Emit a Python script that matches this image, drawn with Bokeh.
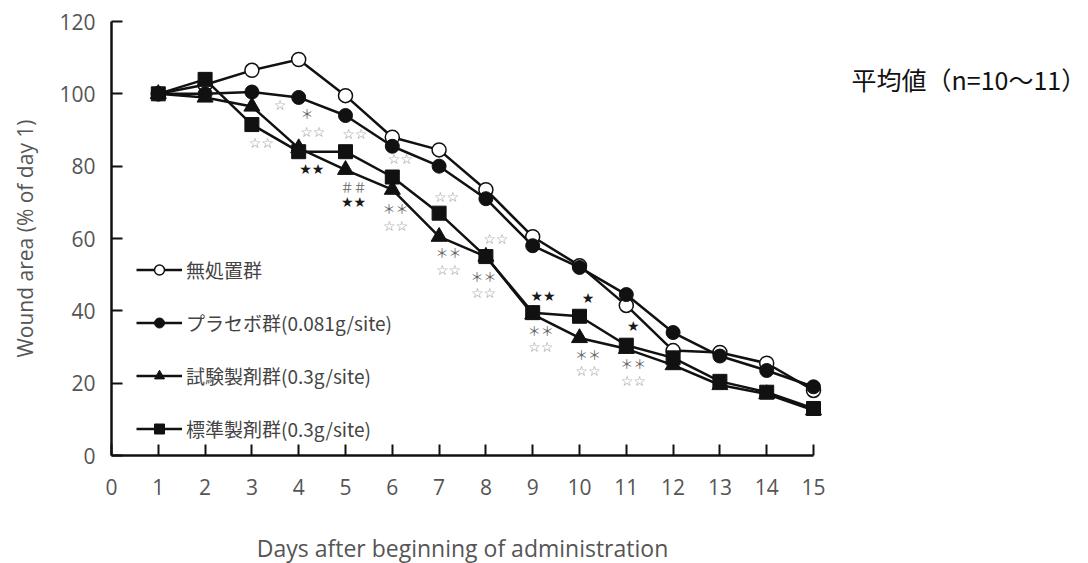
import math
from bokeh.plotting import figure
from bokeh.models import (Range1d, Legend, LegendItem, Label, LabelSet,
                          ColumnDataSource, FixedTicker)
from bokeh.embed import file_html
from bokeh.resources import INLINE

# ---------------- data ----------------
days = list(range(1, 16))
untreated = [100, 102.5, 106.5, 109.5, 99.5, 88, 84.5, 73.5, 60.5, 52.5, 41.5, 29, 28.5, 25.5, 18]
placebo   = [100, 100, 100.5, 99, 94, 85.5, 80, 71, 58, 52, 44.5, 34, 27.5, 23.5, 19]
test_drug = [100, 99, 96.5, 85, 79, 73.5, 60.5, 55, 39, 32.5, 29.5, 25, 19.5, 17, 12.5]
standard  = [100, 104, 91.5, 84, 84, 77, 67, 55, 39.5, 38.5, 30.5, 27, 20.5, 17.5, 13]

series_names = ["無処置群", "プラセボ群(0.081g/site)", "試験製剤群(0.3g/site)", "標準製剤群(0.3g/site)"]

x_ticks = list(range(0, 16))
y_ticks = [0, 20, 40, 60, 80, 100, 120]

# significance marks (day position, value position, symbols)
sig_x = [3.6, 4.18, 4.3, 3.2, 5.2, 4.28, 5.17, 5.17, 6.17, 6.07, 6.07, 7.16, 7.2, 7.2,
         8.21, 7.95, 7.95, 9.22, 10.18, 9.17, 9.17, 11.15, 10.18, 10.18, 11.15, 11.15]
sig_y = [96.8, 94.5, 89.5, 86.4, 89, 79.2, 74.4, 70.2, 82, 68.3, 63.5, 71.4, 56, 51.2,
         60, 49.5, 44.8, 44.2, 43.6, 34.6, 29.9, 35.8, 28, 23.4, 25.3, 20.6]
sig_t = ["☆", "＊", "☆☆", "☆☆", "☆☆", "★★", "＃＃", "★★", "☆☆", "＊＊", "☆☆", "☆☆", "＊＊", "☆☆",
         "☆☆", "＊＊", "☆☆", "★★", "★", "＊＊", "☆☆", "★", "＊＊", "☆☆", "＊＊", "☆☆"]

title_note = "平均値（n=10～11）"
x_title = "Days after beginning of administration"
y_title = "Wound area (% of day 1)"

# ---------------- layout (frame fills the canvas; axes fixed at 0) ----------------
W, H = 1088, 563
AX_LEFT, AX_TOP, AX_BOTTOM = 111, 21, 455     # pixel positions of x=0, y=120, y=0
PX_PER_DAY = 46.8
PX_PER_UNIT = (AX_BOTTOM - AX_TOP) / 120.0

x0 = -AX_LEFT / PX_PER_DAY
x1 = (W - AX_LEFT) / PX_PER_DAY
y1 = 120 + AX_TOP / PX_PER_UNIT
y0 = 120 - (H - AX_TOP) / PX_PER_UNIT

def px_to_x(px):
    return (px - AX_LEFT) / PX_PER_DAY

def py_to_y(py):
    return (AX_BOTTOM - py) / PX_PER_UNIT

p = figure(width=W, height=H, x_range=Range1d(x0, x1), y_range=Range1d(y0, y1),
           output_backend="svg", toolbar_location=None,
           min_border=0, min_border_left=0, min_border_right=0,
           min_border_top=0, min_border_bottom=0)
p.xgrid.visible = False
p.ygrid.visible = False
p.outline_line_color = None
p.background_fill_color = "white"
p.border_fill_color = "white"

for ax in (p.xaxis[0], p.yaxis[0]):
    ax.fixed_location = 0
    ax.axis_line_width = 2.5
    ax.axis_line_color = "#111111"
    ax.major_tick_line_width = 2
    ax.major_tick_line_color = "#111111"
    ax.major_tick_in = 11
    ax.major_tick_out = 0
    ax.minor_tick_line_color = None
    ax.major_label_text_font = "Open Sans"
    ax.major_label_text_font_size = "21px"
    ax.major_label_text_color = "#555555"

p.xaxis.ticker = FixedTicker(ticks=x_ticks)
p.xaxis.bounds = (0, 15)
p.xaxis.major_label_standoff = 23
p.yaxis.ticker = FixedTicker(ticks=y_ticks)
p.yaxis.bounds = (0, 120)
p.yaxis.major_label_standoff = 16

LW = 2.5
src = ColumnDataSource(dict(d=days, u=untreated, pl=placebo, t=test_drug, s=standard))

l1 = p.line("d", "u", source=src, line_color="#111111", line_width=LW)
m1 = p.scatter("d", "u", source=src, marker="circle", size=14, fill_color="white",
               line_color="#111111", line_width=1.5)
l2 = p.line("d", "pl", source=src, line_color="#111111", line_width=LW)
m2 = p.scatter("d", "pl", source=src, marker="circle", size=14, fill_color="#111111",
               line_color="#111111")
l3 = p.line("d", "t", source=src, line_color="#111111", line_width=LW)
m3 = p.scatter("d", "t", source=src, marker="triangle", size=16, fill_color="#111111",
               line_color="#111111")
l4 = p.line("d", "s", source=src, line_color="#111111", line_width=LW)
m4 = p.scatter("d", "s", source=src, marker="square", size=14, fill_color="#111111",
               line_color="#111111")

legend = Legend(items=[LegendItem(label=series_names[0], renderers=[l1, m1]),
                       LegendItem(label=series_names[1], renderers=[l2, m2]),
                       LegendItem(label=series_names[2], renderers=[l3, m3]),
                       LegendItem(label=series_names[3], renderers=[l4, m4])],
                location=(136, 121), glyph_width=46, glyph_height=25, label_height=25,
                spacing=26, padding=0, margin=0, border_line_color=None,
                background_fill_alpha=0, label_text_font="Noto Sans CJK JP",
                label_text_font_size="19px", label_text_color="#444444",
                label_standoff=4)
p.add_layout(legend)

# significance marks
colors, fonts, sizes = [], [], []
for t in sig_t:
    if "★" in t:
        colors.append("#1a1a1a"); fonts.append("DejaVu Sans"); sizes.append("14px")
    elif "☆" in t:
        colors.append("#8c8c8c"); fonts.append("DejaVu Sans"); sizes.append("14px")
    else:
        colors.append("#666666"); fonts.append("Noto Sans CJK JP"); sizes.append("13px")
sig_src = ColumnDataSource(dict(x=sig_x, y=sig_y, t=sig_t, c=colors, f=fonts, s=sizes))
p.add_layout(LabelSet(x="x", y="y", text="t", source=sig_src, text_color="c",
                      text_font="f", text_font_size="s", text_align="center",
                      text_baseline="middle"))

# texts
p.add_layout(Label(x=px_to_x(851), y=py_to_y(78), text=title_note,
                   text_font="Noto Sans CJK JP", text_font_size="25px",
                   text_color="#111111", text_baseline="middle"))
p.add_layout(Label(x=7.5, y=py_to_y(547), text=x_title, text_font="Open Sans",
                   text_font_size="23px", text_color="#555555", text_align="center",
                   text_baseline="middle"))
p.add_layout(Label(x=px_to_x(24), y=60, text=y_title, text_font="Open Sans",
                   text_font_size="21px", text_color="#555555", text_align="center",
                   text_baseline="middle", angle=math.pi / 2))

open("out.html", "w").write(file_html(p, INLINE))
